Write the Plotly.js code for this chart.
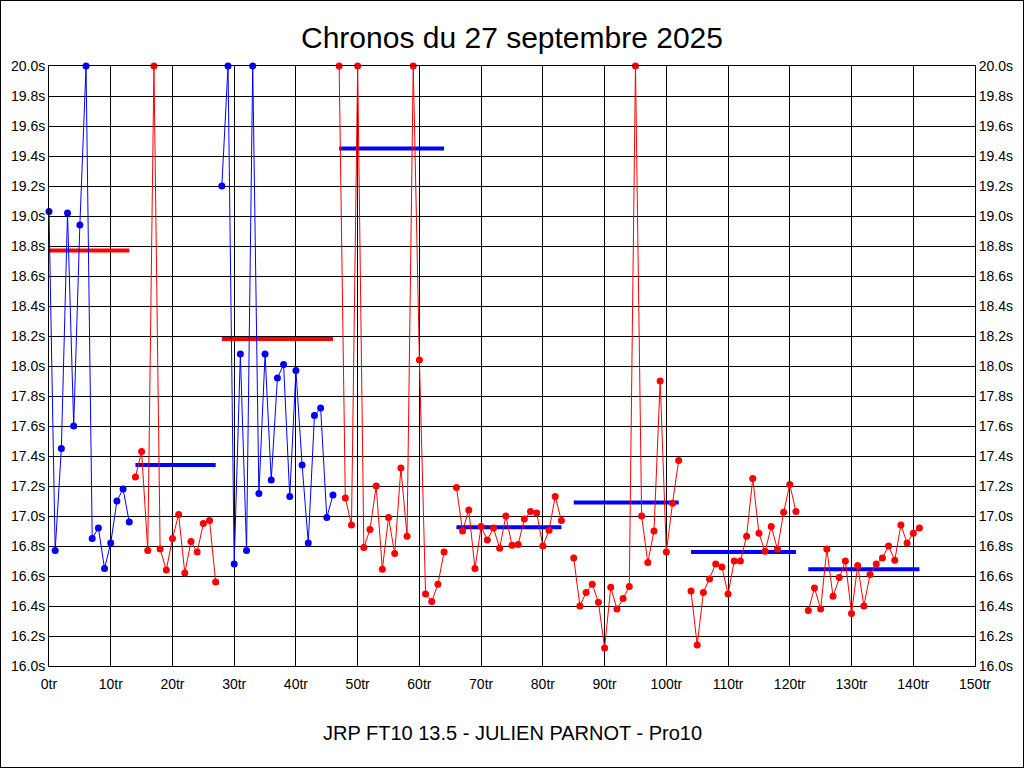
<!DOCTYPE html>
<html>
<head>
<meta charset="utf-8">
<script src="https://cdn.plot.ly/plotly-3.0.1.min.js"></script>
<style>
  html, body { margin: 0; padding: 0; background: #fff; overflow: hidden; }
  #cadre { width: 1024px; height: 768px; box-sizing: border-box; border: 1px solid #000; }
  #chronos { width: 1022px; height: 766px; }
</style>
</head>
<body>
<div id="cadre"><div id="chronos"></div></div>
<script>
// premier tour de chaque relais
const relaisDebut = [0, 14, 28, 47, 66, 85, 104, 123];

// temps au tour (s), les tours hors echelle sont bloques a 20.0
const relais1 = [19.03, 16.77, 17.45, 19.02, 17.60, 18.94, 20.0, 16.85, 16.92, 16.65, 16.82, 17.10, 17.18, 16.96];
const relais2 = [17.26, 17.43, 16.77, 20.0, 16.78, 16.64, 16.85, 17.01, 16.62, 16.83, 16.76, 16.95, 16.97, 16.56];
const relais3 = [19.20, 20.0, 16.68, 18.08, 16.77, 20.0, 17.15, 18.08, 17.24, 17.92, 18.01, 17.13, 17.97, 17.34, 16.82, 17.67, 17.72, 16.99, 17.14];
const relais4 = [20.0, 17.12, 16.94, 20.0, 16.79, 16.91, 17.20, 16.645, 16.99, 16.75, 17.32, 16.865, 20.0, 18.04, 16.48, 16.43, 16.545, 16.76];
const relais5 = [17.19, 16.90, 17.04, 16.65, 16.93, 16.84, 16.92, 16.785, 17.00, 16.805, 16.81, 16.98, 17.03, 17.02, 16.80, 16.905, 17.13, 16.97];
const relais6 = [16.72, 16.40, 16.49, 16.545, 16.425, 16.12, 16.525, 16.38, 16.45, 16.53, 20.0, 17.00, 16.69, 16.90, 17.90, 16.76, 17.085, 17.37];
const relais7 = [16.50, 16.14, 16.49, 16.58, 16.68, 16.66, 16.48, 16.70, 16.70, 16.865, 17.25, 16.885, 16.765, 16.93, 16.78, 17.025, 17.21, 17.03];
const relais8 = [16.37, 16.52, 16.38, 16.78, 16.465, 16.59, 16.70, 16.35, 16.67, 16.40, 16.61, 16.68, 16.72, 16.80, 16.705, 16.94, 16.82, 16.885, 16.92];

// moyenne de chaque relais
const moyennes = [18.77, 17.34, 18.18, 19.45, 16.925, 17.09, 16.76, 16.645];

const couleurPoints = ["blue", "red", "blue", "red", "red", "red", "red", "red"];
const couleurMoyenne = ["red", "blue", "red", "blue", "blue", "blue", "blue", "blue"];

const titre = "Chronos du 27 septembre 2025";
const sousTitre = "JRP FT10 13.5 - JULIEN PARNOT - Pro10";

const relais = [relais1, relais2, relais3, relais4, relais5, relais6, relais7, relais8];

const police = "Liberation Sans, Arial, sans-serif";

const traces = [];

relais.forEach((temps, i) => {

    const tours = temps.map((t, k) => relaisDebut[i] + k);

    // moyenne du relais
    traces.push({
        x: [tours[0], tours[tours.length - 1]],
        y: [moyennes[i], moyennes[i]],
        mode: "lines",
        line: { color: couleurMoyenne[i], width: 4 },
        showlegend: false,
        hoverinfo: "skip"
    });

    // chronos
    traces.push({
        x: tours,
        y: temps,
        mode: "lines+markers",
        line: { color: couleurPoints[i], width: 1 },
        marker: { color: couleurPoints[i], size: 7 },
        cliponaxis: false,
        showlegend: false
    });

});

// trace invisible pour l'axe de droite
traces.push({
    x: [0],
    y: [16],
    yaxis: "y2",
    mode: "markers",
    marker: { opacity: 0 },
    showlegend: false,
    hoverinfo: "skip"
});

const axeY = {
    range: [16, 20],
    dtick: 0.2,
    tick0: 16,
    tickformat: ".1f",
    ticksuffix: "s",
    showgrid: true,
    gridcolor: "#000",
    gridwidth: 1,
    zeroline: false,
    showline: true,
    linecolor: "#000",
    linewidth: 1,
    ticks: "",
    tickfont: { family: police, size: 14, color: "#000" },
    fixedrange: true
};

const layout = {

    width: 1022,
    height: 766,

    margin: { l: 48, r: 48, t: 65, b: 101 },

    paper_bgcolor: "#fff",
    plot_bgcolor: "#fff",

    title: {
        text: titre,
        font: { family: police, size: 30, color: "#000" },
        x: 0.5,
        xanchor: "center",
        y: 1 - 36 / 766,
        yanchor: "middle"
    },

    xaxis: {
        range: [0, 150],
        dtick: 10,
        tick0: 0,
        ticksuffix: "tr",
        showgrid: true,
        gridcolor: "#000",
        gridwidth: 1,
        zeroline: false,
        showline: true,
        mirror: true,
        linecolor: "#000",
        linewidth: 1,
        ticks: "",
        ticklabelstandoff: 5,
        tickfont: { family: police, size: 14, color: "#000" },
        fixedrange: true
    },

    yaxis: Object.assign({}, axeY, { mirror: true }),

    yaxis2: Object.assign({}, axeY, {
        overlaying: "y",
        side: "right",
        showgrid: false
    }),

    annotations: [{
        text: sousTitre,
        xref: "paper",
        yref: "paper",
        x: 0.5,
        y: -(732 - 665) / 600,
        xanchor: "center",
        yanchor: "middle",
        showarrow: false,
        font: { family: police, size: 20, color: "#000" }
    }],

    hovermode: false,
    showlegend: false

};

Plotly.newPlot("chronos", traces, layout, { displayModeBar: false, staticPlot: true });
</script>
</body>
</html>
